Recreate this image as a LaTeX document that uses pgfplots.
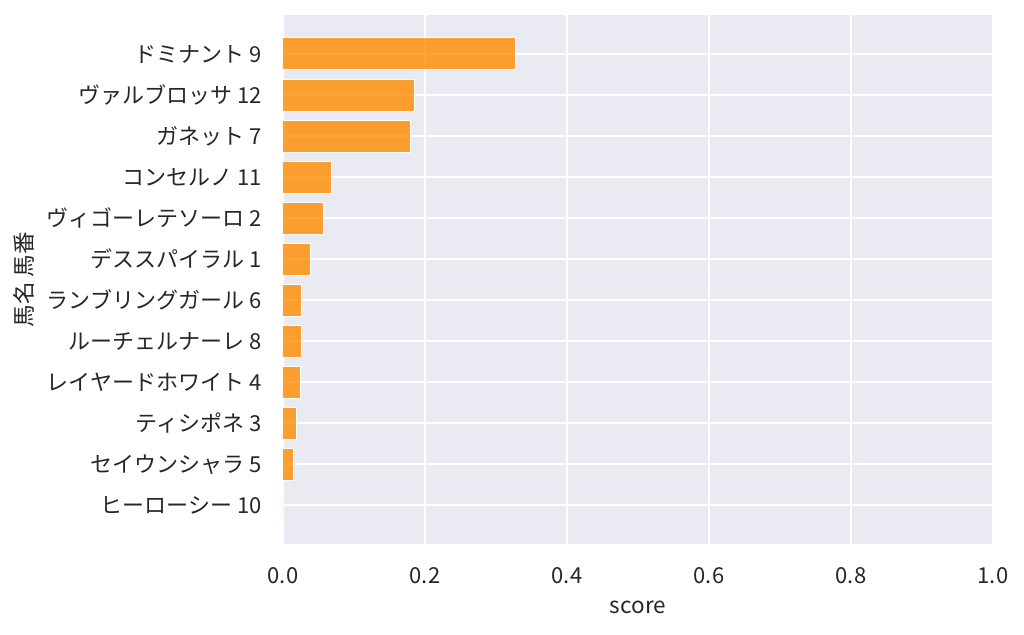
\documentclass[border=0pt]{standalone}
\usepackage{pgfplots}
\pgfplotsset{compat=1.18}
\usepackage{fontspec}
\setmainfont{Noto Sans CJK JP}
\definecolor{bgc}{HTML}{EAEAF2}
\definecolor{txt}{HTML}{262626}
\definecolor{barc}{HTML}{FF8C00}
\begin{document}
\fontsize{22pt}{26pt}\selectfont
\begin{tikzpicture}
\begin{axis}[
  at={(0,0)}, anchor=south west,
  scale only axis,
  width=710pt, height=529.3pt,
  xmin=0, xmax=1,
  ymin=-0.95, ymax=11.95,
  y dir=reverse,
  axis background/.style={fill=bgc},
  axis line style={draw=none},
  major tick length=0pt,
  grid=major,
  major grid style={white, line width=1.8pt},
  xtick={0,0.2,0.4,0.6,0.8,1.0},
  ytick={0,1,2,3,4,5,6,7,8,9,10,11},
  yticklabels={ドミナント 9, ヴァルブロッサ 12, ガネット 7, コンセルノ 11, ヴィゴーレテソーロ 2, デススパイラル 1, ランブリングガール 6, ルーチェルナーレ 8, レイヤードホワイト 4, ティシポネ 3, セイウンシャラ 5, ヒーローシー 10},
  /pgf/number format/assume math mode=true,
  xticklabel style={/pgf/number format/.cd, fixed, fixed zerofill, precision=1, /tikz/.cd, yshift=-16pt, text=txt},
  yticklabel style={xshift=-14pt, text=txt},
  tick label style={font=\fontsize{22pt}{26pt}\selectfont},
  label style={font=\fontsize{22.5pt}{26pt}\selectfont, text=txt},
  xlabel={score},
  ylabel={馬名 馬番},
  xlabel style={at={(axis description cs:0.5,-0.1185)}, anchor=center},
  ylabel style={at={(axis description cs:-0.3648,0.5)}, anchor=center},
]
\addplot[xbar, bar width=0.78, fill=barc, fill opacity=0.8, draw=white, line width=1pt] coordinates {
  (0.328,0) (0.1855,1) (0.180,2) (0.068,3) (0.0568,4) (0.0385,5)
  (0.0263,6) (0.0263,7) (0.0244,8) (0.0188,9) (0.015,10) (0.001,11)
};
\end{axis}
\pgfresetboundingbox
\path[use as bounding box] (-283pt,-89.7pt) rectangle (741pt,544.3pt);
\end{tikzpicture}
\end{document}
